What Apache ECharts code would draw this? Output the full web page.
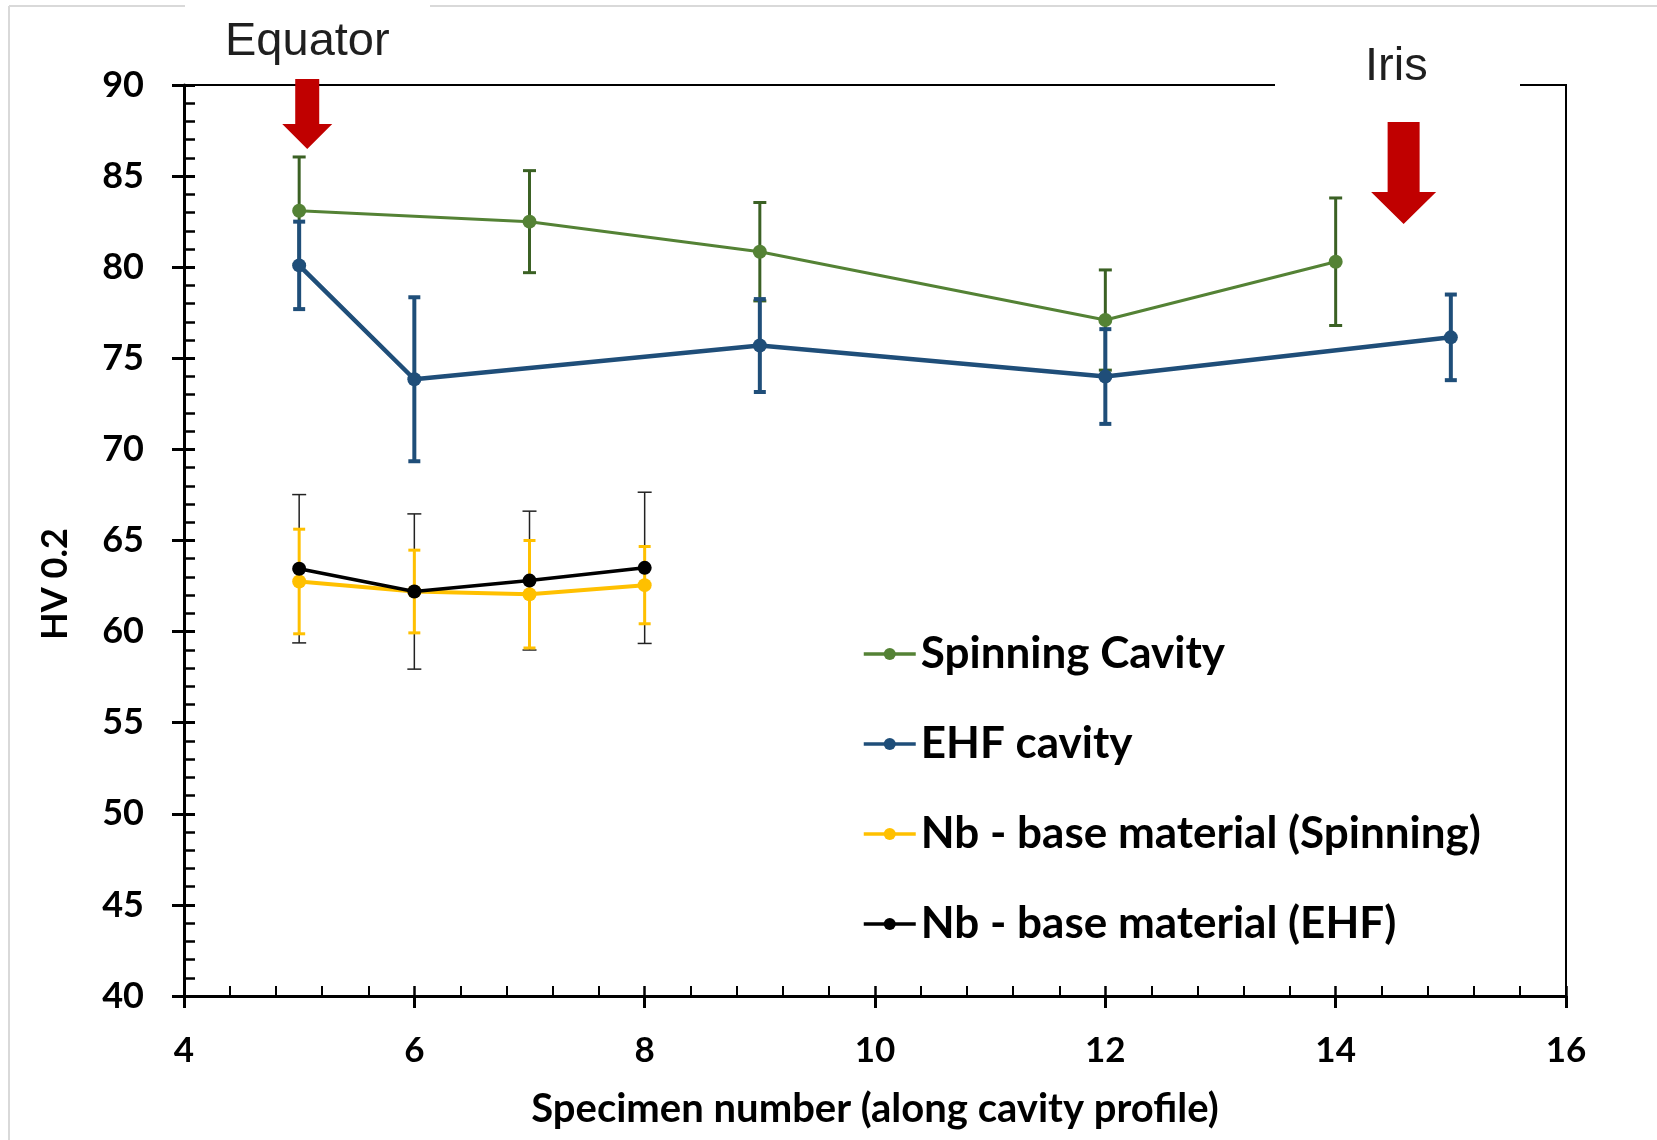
<!DOCTYPE html>
<html>
<head>
    <meta charset="utf-8">
    <style>
        html, body {
            width: 100%;
            height: 100%;
            margin: 0;
            background: #fff;
        }

        #chart-panel {
            width: 1657px;
            height: 1140px;
        }
    </style>
    <script src="https://cdn.jsdelivr.net/npm/echarts@6.0.0/dist/echarts.min.js"></script>
</head>
<body>
<div id="chart-panel"></div>
<script type="text/javascript">

  // specimen number along the cavity profile
  const specSpinning = [5, 7, 9, 12, 14];
  const specEhf = [5, 6, 9, 12, 15];
  const specBase = [5, 6, 7, 8];

  // HV 0.2 mean values and error bar half widths
  const hvSpinning = [83.1, 82.5, 80.85, 77.1, 80.3];
  const errSpinning = [2.95, 2.8, 2.7, 2.75, 3.5];
  const hvEhf = [80.1, 73.85, 75.7, 74.0, 76.15];
  const errEhf = [2.4, 4.5, 2.55, 2.6, 2.35];
  const hvBaseSpinning = [62.75, 62.2, 62.05, 62.55];
  const errBaseSpinning = [2.87, 2.27, 2.95, 2.12];
  const hvBaseEhf = [63.45, 62.2, 62.8, 63.5];
  const errBaseEhf = [4.07, 4.26, 3.81, 4.15];

  const seriesNames = ['Spinning Cavity', 'EHF cavity', 'Nb - base material (Spinning)', 'Nb - base material (EHF)'];

  // axis ranges / tick steps
  const xRange = [4, 16], xStep = 2;
  const yRange = [40, 90], yStep = 5;

  const boldFont = 'Lato';

  var myChart = echarts.init(document.getElementById('chart-panel'));

  function lineSeries(name, xs, ys, color, width, z) {
    return {
      name: name,
      type: 'line',
      data: xs.map((x, i) => [x, ys[i]]),
      symbol: 'circle',
      symbolSize: 14,
      lineStyle: {color: color, width: width},
      itemStyle: {color: color},
      z: z
    };
  }

  // vertical error bars with caps, drawn by a custom series
  function errorSeries(xs, ys, errs, color, width, cap, z) {
    return {
      type: 'custom',
      silent: true,
      z: z,
      encode: {x: 0, y: [1, 2]},
      data: xs.map((x, i) => [x, ys[i] - errs[i], ys[i] + errs[i]]),
      renderItem: function (params, api) {
        const lo = api.coord([api.value(0), api.value(1)]);
        const hi = api.coord([api.value(0), api.value(2)]);
        const style = {stroke: color, lineWidth: width};
        return {
          type: 'group',
          children: [
            {type: 'line', shape: {x1: lo[0], y1: lo[1], x2: hi[0], y2: hi[1]}, style: style},
            {type: 'line', shape: {x1: lo[0] - cap / 2, y1: lo[1], x2: lo[0] + cap / 2, y2: lo[1]}, style: style},
            {type: 'line', shape: {x1: hi[0] - cap / 2, y1: hi[1], x2: hi[0] + cap / 2, y2: hi[1]}, style: style}
          ]
        };
      }
    };
  }

  var option = {
    animation: false,
    backgroundColor: '#fff',
    grid: {
      left: 184,
      right: 91,
      top: 85,
      bottom: 144,
      containLabel: false,
      outerBoundsMode: 'none',
      show: true,
      borderWidth: 2,
      borderColor: '#000'
    },
    legend: {
      orient: 'vertical',
      left: 857,
      top: 627,
      itemWidth: 52,
      itemHeight: 15,
      itemGap: 46,
      data: seriesNames,
      lineStyle: {width: 3.5},
      textStyle: {
        fontFamily: boldFont,
        fontWeight: 'bold',
        fontSize: 44,
        lineHeight: 44,
        color: '#000'
      }
    },
    xAxis: [{
      type: 'value',
      min: xRange[0],
      max: xRange[1],
      interval: xStep,
      position: 'bottom',
      axisLine: {lineStyle: {color: '#000', width: 3}},
      axisTick: {inside: false, length: 12, lineStyle: {color: '#000', width: 3}},
      splitLine: {show: false},
      axisLabel: {margin: 37, fontFamily: boldFont, fontWeight: 'bold', fontSize: 35, color: '#000'},
      name: 'Specimen number (along cavity profile)',
      nameLocation: 'middle',
      nameGap: 93,
      nameTextStyle: {fontFamily: boldFont, fontWeight: 'bold', fontSize: 40, color: '#000'}
    }, {
      type: 'value',
      min: xRange[0],
      max: xRange[1],
      interval: xStep,
      position: 'bottom',
      axisLine: {show: false},
      axisLabel: {show: false},
      axisTick: {inside: true, length: 10, lineStyle: {color: '#000', width: 2.5}},
      minorTick: {show: true, splitNumber: 5, length: 10, lineStyle: {color: '#000', width: 2}},
      splitLine: {show: false}
    }],
    yAxis: [{
      type: 'value',
      min: yRange[0],
      max: yRange[1],
      interval: yStep,
      position: 'left',
      axisLine: {show: true, lineStyle: {color: '#000', width: 3}},
      axisTick: {show: true, inside: false, length: 12, lineStyle: {color: '#000', width: 3}},
      splitLine: {show: false},
      axisLabel: {margin: 40, fontFamily: boldFont, fontWeight: 'bold', fontSize: 36, color: '#000'}
    }, {
      type: 'value',
      min: yRange[0],
      max: yRange[1],
      interval: yStep,
      position: 'left',
      axisLine: {show: false},
      axisLabel: {show: false},
      axisTick: {show: true, inside: true, length: 11, lineStyle: {color: '#000', width: 3}},
      minorTick: {show: true, splitNumber: 5, length: 11, lineStyle: {color: '#000', width: 2.5}},
      splitLine: {show: false}
    }],
    series: [
      lineSeries(seriesNames[0], specSpinning, hvSpinning, '#548235', 3, 10),
      lineSeries(seriesNames[1], specEhf, hvEhf, '#1f4e79', 4.5, 11),
      lineSeries(seriesNames[2], specBase, hvBaseSpinning, '#ffc000', 4, 12),
      lineSeries(seriesNames[3], specBase, hvBaseEhf, '#000000', 3.5, 13),
      errorSeries(specSpinning, hvSpinning, errSpinning, '#3b6124', 3, 13, 2),
      errorSeries(specEhf, hvEhf, errEhf, '#1f4e79', 4, 12, 3),
      errorSeries(specBase, hvBaseEhf, errBaseEhf, '#222222', 1.5, 14, 4),
      errorSeries(specBase, hvBaseSpinning, errBaseSpinning, '#ffc000', 3, 12, 5)
    ]
  };

  myChart.setOption(option);

  // red arrows marking equator and iris, anchored at their tip in data space
  function arrow(tipX, tipY, w, h, shaftW, headH) {
    const p = myChart.convertToPixel({gridIndex: 0}, [tipX, tipY]);
    const tx = p[0], ty = p[1];
    return {
      type: 'polygon',
      z: 100,
      shape: {
        points: [
          [tx - shaftW / 2, ty - h], [tx + shaftW / 2, ty - h], [tx + shaftW / 2, ty - headH],
          [tx + w / 2, ty - headH], [tx, ty], [tx - w / 2, ty - headH], [tx - shaftW / 2, ty - headH]
        ]
      },
      style: {fill: '#c00000'}
    };
  }

  myChart.setOption({
    graphic: [
      // light frame of the picture
      {type: 'line', z: 90, shape: {x1: 9, y1: 6, x2: 1657, y2: 6}, style: {stroke: '#d9d9d9', lineWidth: 2}},
      {type: 'line', z: 90, shape: {x1: 9, y1: 6, x2: 9, y2: 1140}, style: {stroke: '#d9d9d9', lineWidth: 2}},
      // white label boxes
      {type: 'rect', z: 95, shape: {x: 185, y: 0, width: 245, height: 40}, style: {fill: '#fff'}},
      {type: 'rect', z: 95, shape: {x: 1275, y: 30, width: 245, height: 62}, style: {fill: '#fff'}},
      {type: 'text', z: 100, x: 225, y: 42, style: {
        text: 'Equator', fontFamily: 'Liberation Sans', fontSize: 47, fill: '#1f1f1f', verticalAlign: 'middle'
      }},
      {type: 'text', z: 100, x: 1365, y: 67, style: {
        text: 'Iris', fontFamily: 'Liberation Sans', fontSize: 47, fill: '#1f1f1f', verticalAlign: 'middle'
      }},
      // y axis title, placed off-centre as in the original
      {type: 'text', z: 100, x: 55, y: 584, rotation: Math.PI / 2, style: {
        text: 'HV 0.2', fontFamily: boldFont, fontWeight: 'bold', fontSize: 36, fill: '#000',
        align: 'center', verticalAlign: 'middle'
      }},
      arrow(5.07, 86.49, 50, 70, 24, 25),
      arrow(14.59, 82.37, 65, 102, 32, 32)
    ]
  });
</script>
</body>
</html>
